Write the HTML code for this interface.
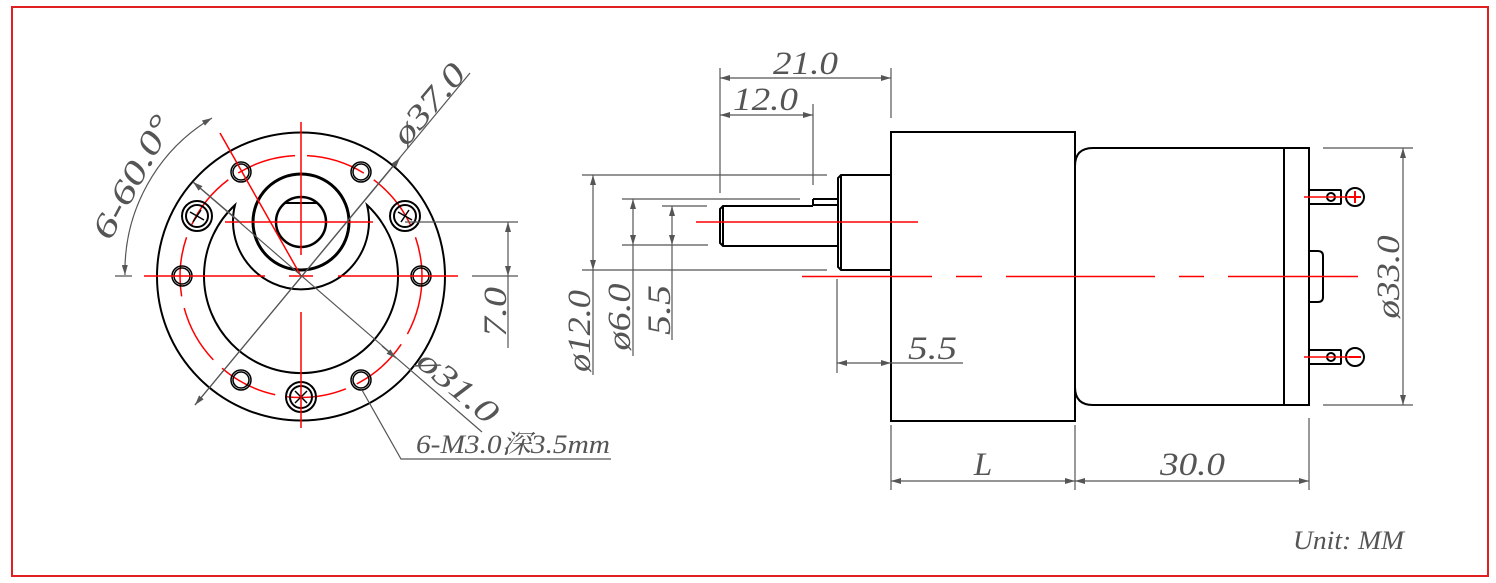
<!DOCTYPE html>
<html><head><meta charset="utf-8"><style>
html,body{margin:0;padding:0;background:#fff}
svg{display:block}
.t{font-family:"Liberation Serif","Noto Serif CJK SC",serif;font-style:italic;fill:#555;font-size:33px}
</style></head><body>
<svg width="1496" height="583" viewBox="0 0 1496 583" xmlns="http://www.w3.org/2000/svg">
<defs>
<marker id="a" viewBox="0 0 10 6" refX="10" refY="3" markerWidth="10" markerHeight="6" orient="auto-start-reverse" markerUnits="userSpaceOnUse"><path d="M0,0 L10,3 L0,6 z" fill="#555"/></marker>
</defs>
<rect x="12" y="7" width="1476" height="569" fill="none" stroke="#e02020" stroke-width="2"/>

<!-- LEFT VIEW -->
<g fill="none" stroke="#000" stroke-width="2">
<circle cx="301" cy="276.5" r="144"/>
<path d="M235,205 A97,97 0 1,0 367,205 A68,68 0 1,1 235,205 Z"/>
<circle cx="301" cy="222" r="48" stroke-width="3"/>
<circle cx="301" cy="222" r="25" stroke-width="2.5"/>
<line x1="285" y1="203" x2="317" y2="203" stroke-width="2"/>
</g>
<circle cx="301" cy="276.5" r="121" fill="none" stroke="#f00" stroke-width="1.5" stroke-dasharray="60,12"/>
<g fill="none" stroke="#000" stroke-width="1.5">
<circle cx="241" cy="172" r="10"/><circle cx="241" cy="172" r="8"/>
<circle cx="361" cy="172" r="10"/><circle cx="361" cy="172" r="8"/>
<circle cx="182" cy="276" r="10"/><circle cx="182" cy="276" r="8"/>
<circle cx="421" cy="276" r="10"/><circle cx="421" cy="276" r="8"/>
<circle cx="241" cy="380" r="10"/><circle cx="241" cy="380" r="8"/>
<circle cx="361" cy="380" r="10"/><circle cx="361" cy="380" r="8"/>
<g stroke-width="2"><circle cx="197" cy="216" r="15"/><circle cx="197" cy="216" r="11"/>
<circle cx="405" cy="216" r="15"/><circle cx="405" cy="216" r="11"/>
<circle cx="301" cy="397" r="15"/><circle cx="301" cy="397" r="11"/></g>
<path d="M190,212 L204,220 M193,222 L201,210 M398,212 L412,220 M401,222 L409,210 M295,391 L307,403 M307,391 L295,403"/>
</g>
<g stroke="#f00" stroke-width="1.5">
<line x1="144" y1="276" x2="265" y2="276"/><line x1="289" y1="276" x2="313" y2="276"/><line x1="338" y1="276" x2="458" y2="276"/>
<line x1="301" y1="122" x2="301" y2="255"/><line x1="301" y1="312" x2="301" y2="428"/>
<line x1="225" y1="222" x2="373" y2="222"/>
<line x1="220" y1="133" x2="301" y2="276"/>
</g>
<g stroke="#555" stroke-width="1.2" fill="none">
<line x1="470" y1="73" x2="195" y2="405" marker-end="url(#a)"/>
<line x1="195" y1="405" x2="400" y2="158" marker-end="url(#a)"/>
<line x1="193" y1="182" x2="482" y2="432"/>
<line x1="193" y1="182" x2="240" y2="222" marker-start="url(#a)"/>
<line x1="396" y1="358" x2="382" y2="346" marker-start="url(#a)"/>
<polyline points="362,390 401,459 611,459"/>
<path d="M125,275 A178,178 0 0,1 212,118" marker-start="url(#a)" marker-end="url(#a)"/>
<line x1="115" y1="276" x2="132" y2="276"/>
<line x1="405" y1="222" x2="518" y2="222"/><line x1="472" y1="276" x2="518" y2="276"/>
<line x1="508" y1="222" x2="508" y2="276" marker-start="url(#a)" marker-end="url(#a)"/>
<line x1="508" y1="276" x2="508" y2="348"/>
</g>
<text class="t" transform="translate(437,111) rotate(-50)" text-anchor="middle" textLength="95" lengthAdjust="spacingAndGlyphs">ø37.0</text>
<text class="t" transform="translate(142,182) rotate(-62)" text-anchor="middle" textLength="135" lengthAdjust="spacingAndGlyphs">6-60.0°</text>
<text class="t" transform="translate(451,395) rotate(40)" text-anchor="middle" textLength="95" lengthAdjust="spacingAndGlyphs">ø31.0</text>
<text class="t" transform="translate(506,312) rotate(-90)" text-anchor="middle" textLength="50" lengthAdjust="spacingAndGlyphs">7.0</text>
<text class="t" x="416" y="453" style="font-size:26px" textLength="194" lengthAdjust="spacingAndGlyphs">6-M3.0深3.5mm</text>

<!-- RIGHT VIEW -->
<g fill="none" stroke="#000" stroke-width="2">
<rect x="891" y="132" width="184" height="289"/>
<path d="M891,175 L841,175 L838,178 L838,267 L841,270 L891,270"/>
<line x1="841" y1="175" x2="841" y2="270"/>
<path d="M838,205 L813,205 L813,199 M813,199 L838,199 M838,246 L723,246 L720,243 L720,209 L723,206 L813,206"/>
<line x1="723" y1="206" x2="723" y2="246"/>
<path d="M1284,148 L1093,148 Q1075,148 1075,166 L1075,387 Q1075,405 1093,405 L1284,405 Z"/>
<rect x="1284" y="148" width="25" height="257"/>
<rect x="1309" y="190" width="32" height="14" rx="1"/>
<rect x="1309" y="350" width="32" height="14" rx="1"/>
<circle cx="1331" cy="197" r="4"/><circle cx="1331" cy="357" r="4"/>
<circle cx="1355" cy="197" r="9"/><circle cx="1355" cy="357" r="9"/>
<path d="M1309,251 L1318,251 Q1323,251 1323,256 L1323,297 Q1323,302 1318,302 L1309,302"/>
</g>
<g stroke="#f00" stroke-width="1.5">
<line x1="696" y1="222" x2="918" y2="222"/>
<line x1="802" y1="276.5" x2="932" y2="276.5"/><line x1="956" y1="276.5" x2="982" y2="276.5"/>
<line x1="1006" y1="276.5" x2="1155" y2="276.5"/><line x1="1179" y1="276.5" x2="1204" y2="276.5"/>
<line x1="1228" y1="276.5" x2="1358" y2="276.5"/>
<line x1="1304" y1="197" x2="1350" y2="197"/><line x1="1304" y1="357" x2="1361" y2="357"/>
<path d="M1349,197 L1361,197 M1355,191 L1355,203" stroke-width="2"/>
<path d="M1349,357 L1361,357" stroke-width="2"/>
</g>
<g stroke="#555" stroke-width="1.2" fill="none">
<line x1="720" y1="68" x2="720" y2="193"/><line x1="891" y1="68" x2="891" y2="118"/><line x1="813" y1="104" x2="813" y2="185"/>
<line x1="720" y1="78" x2="891" y2="78" marker-start="url(#a)" marker-end="url(#a)"/>
<line x1="720" y1="115" x2="813" y2="115" marker-start="url(#a)" marker-end="url(#a)"/>
<line x1="582" y1="175" x2="827" y2="175"/><line x1="582" y1="270" x2="827" y2="270"/>
<line x1="622" y1="199" x2="800" y2="199"/><line x1="622" y1="245" x2="708" y2="245"/>
<line x1="662" y1="206" x2="707" y2="206"/>
<line x1="593" y1="175" x2="593" y2="270" marker-start="url(#a)" marker-end="url(#a)"/><line x1="593" y1="270" x2="593" y2="375"/>
<line x1="633" y1="199" x2="633" y2="245" marker-start="url(#a)" marker-end="url(#a)"/><line x1="633" y1="245" x2="633" y2="356"/>
<line x1="672" y1="206" x2="672" y2="245" marker-start="url(#a)" marker-end="url(#a)"/><line x1="672" y1="245" x2="672" y2="340"/>
<line x1="837" y1="279" x2="837" y2="373"/>
<line x1="837" y1="363" x2="891" y2="363" marker-start="url(#a)" marker-end="url(#a)"/><line x1="891" y1="363" x2="963" y2="363"/>
<line x1="1323" y1="148" x2="1413" y2="148"/><line x1="1323" y1="405" x2="1413" y2="405"/>
<line x1="1403" y1="148" x2="1403" y2="405" marker-start="url(#a)" marker-end="url(#a)"/>
<line x1="891" y1="425" x2="891" y2="490"/><line x1="1075" y1="425" x2="1075" y2="490"/><line x1="1309" y1="418" x2="1309" y2="490"/>
<line x1="891" y1="481" x2="1075" y2="481" marker-start="url(#a)" marker-end="url(#a)"/>
<line x1="1075" y1="481" x2="1309" y2="481" marker-start="url(#a)" marker-end="url(#a)"/>
</g>
<text class="t" x="773" y="74" textLength="65" lengthAdjust="spacingAndGlyphs">21.0</text>
<text class="t" x="733" y="110" textLength="65" lengthAdjust="spacingAndGlyphs">12.0</text>
<text class="t" transform="translate(590,331) rotate(-90)" text-anchor="middle" textLength="82" lengthAdjust="spacingAndGlyphs">ø12.0</text>
<text class="t" transform="translate(630,317) rotate(-90)" text-anchor="middle" textLength="67" lengthAdjust="spacingAndGlyphs">ø6.0</text>
<text class="t" transform="translate(670,310) rotate(-90)" text-anchor="middle" textLength="50" lengthAdjust="spacingAndGlyphs">5.5</text>
<text class="t" x="908" y="359" textLength="49" lengthAdjust="spacingAndGlyphs">5.5</text>
<text class="t" transform="translate(1399,277) rotate(-90)" text-anchor="middle" textLength="83" lengthAdjust="spacingAndGlyphs">ø33.0</text>
<text class="t" x="983" y="475" text-anchor="middle">L</text>
<text class="t" x="1160" y="475" textLength="65" lengthAdjust="spacingAndGlyphs">30.0</text>
<text class="t" x="1293" y="549" style="font-size:26px" textLength="111" lengthAdjust="spacingAndGlyphs">Unit: MM</text>
</svg>
</body></html>
